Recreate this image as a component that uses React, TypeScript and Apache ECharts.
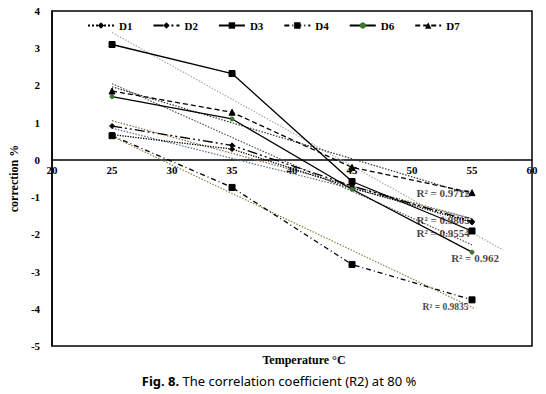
import React, { useEffect, useRef } from "react";
import * as echarts from "echarts";

const temps = [25, 35, 45, 55];
const seriesNames = ["D1", "D2", "D3", "D4", "D6", "D7"];
const D1 = [0.68, 0.29, -0.75, -1.68];
const D2 = [0.91, 0.39, -0.7, -1.65];
const D3 = [3.1, 2.32, -0.58, -1.91];
const D4 = [0.65, -0.74, -2.81, -3.76];
const D6 = [1.7, 1.1, -0.79, -2.48];
const D7 = [1.85, 1.28, -0.2, -0.88];
const trendEnd = [55, 55, 57.6, 55.2, 55, 55];
const xTicks = { min: 20, max: 60, interval: 5 };
const yTicks = { min: -5, max: 4, interval: 1 };

const r2Texts = ["R² = 0.9712", "R² = 0.9805", "R² = 0.9554", "R² = 0.962", "R² = 0.9835"];
const r2X = [52.6, 52.6, 52.6, 55.25, 52.8];
const r2Y = [-0.88, -1.62, -1.97, -2.63, -3.95];
const r2Size = [11, 11, 11, 11, 9.5];

const allData = [D1, D2, D3, D4, D6, D7];
const lineTypes: any[] = ["dotted", [10, 3, 2, 3, 2, 3], "solid", [5, 3, 1, 3], "solid", [5, 3]];
const symbols = ["diamond", "diamond", "rect", "rect", "circle", "triangle"];
const symbolSizes = [5, 5, 6, 6, 4, 6];
const symbolColors = ["#000", "#000", "#000", "#000", "#3b7a2b", "#000"];
const trendColors = ["#5a6a80", "#8a6a40", "#aaaaaa", "#8a8040", "#555", "#333"];

function fit(ys: number[]) {
  const n = ys.length;
  const mx = temps.reduce((a, b) => a + b, 0) / n;
  const my = ys.reduce((a, b) => a + b, 0) / n;
  let sxy = 0, sxx = 0;
  for (let i = 0; i < n; i++) {
    sxy += (temps[i] - mx) * (ys[i] - my);
    sxx += (temps[i] - mx) ** 2;
  }
  const b = sxy / sxx;
  const a = my - b * mx;
  return (x: number) => a + b * x;
}

const serif = "'Liberation Serif', 'DejaVu Serif', serif";
const gridTop = 11;
const gridBottom = 48;
const chartH = 394;

export default function App() {
  const ref = useRef<HTMLDivElement>(null);
  useEffect(() => {
    const chart = echarts.init(ref.current!, null, { renderer: "svg" });
    const series: any[] = [];
    allData.forEach((d, i) => {
      const f = fit(d);
      series.push({
        name: seriesNames[i] + "_trend",
        type: "line",
        data: [
          [temps[0], f(temps[0])],
          [trendEnd[i], f(trendEnd[i])],
        ],
        symbol: "none",
        lineStyle: { color: trendColors[i], width: 1.2, type: [1.5, 1.5] },
        silent: true,
        z: 1,
      });
    });
    allData.forEach((d, i) => {
      series.push({
        name: seriesNames[i],
        type: "line",
        data: temps.map((t, j) => [t, d[j]]),
        symbol: symbols[i],
        symbolSize: symbolSizes[i],
        itemStyle: { color: symbolColors[i], borderColor: symbolColors[i] },
        lineStyle: { color: "#000", width: 1.3, type: lineTypes[i] },
        z: 3,
      });
    });
    series.push({
      name: "r2",
      type: "scatter",
      symbolSize: 0,
      data: r2X.map((x, i) => ({
        value: [x, r2Y[i]],
        label: {
          show: true,
          formatter: r2Texts[i],
          fontSize: r2Size[i],
          fontFamily: serif,
          fontWeight: "bold",
          color: "#111",
          position: "inside",
        },
      })),
      z: 5,
      silent: true,
    });

    // pixel distance between bottom of grid and the y = 0 line
    const plotH = chartH - gridTop - gridBottom;
    const zeroOffset = (plotH * (0 - yTicks.min)) / (yTicks.max - yTicks.min);

    chart.setOption({
      animation: false,
      grid: {
        left: 36,
        right: 14,
        top: gridTop,
        bottom: gridBottom,
        show: true,
        borderColor: "#000",
        borderWidth: 1.5,
      },
      legend: {
        data: seriesNames,
        top: 15,
        left: 82,
        itemWidth: 26,
        itemHeight: 8,
        itemGap: 20,
        textStyle: { fontFamily: serif, fontWeight: "bold", fontSize: 11, color: "#000" },
      },
      xAxis: {
        type: "value",
        min: xTicks.min,
        max: xTicks.max,
        interval: xTicks.interval,
        offset: -zeroOffset,
        axisLine: { onZero: false, lineStyle: { color: "#000", width: 1.5 } },
        axisTick: { show: false },
        splitLine: { show: false },
        axisLabel: {
          fontFamily: serif,
          fontWeight: "bold",
          fontSize: 11,
          color: "#000",
          margin: 5,
          showMinLabel: true,
          showMaxLabel: true,
        },
      },
      yAxis: {
        type: "value",
        min: yTicks.min,
        max: yTicks.max,
        interval: yTicks.interval,
        name: "correction %",
        nameLocation: "middle",
        nameGap: 19,
        nameTextStyle: { fontFamily: serif, fontWeight: "bold", fontSize: 12, color: "#000" },
        axisLine: { show: true, lineStyle: { color: "#000", width: 1.5 } },
        axisTick: { show: false },
        splitLine: { show: false },
        axisLabel: {
          fontFamily: serif,
          fontWeight: "bold",
          fontSize: 11,
          color: "#000",
          margin: 12,
        },
      },
      graphic: [
        {
          type: "text",
          x: 304,
          y: 360,
          style: {
            text: "Temperature °C",
            fontFamily: serif,
            fontWeight: "bold",
            fontSize: 12,
            fill: "#000",
            align: "center",
            verticalAlign: "middle",
          },
        },
        {
          type: "text",
          x: 279,
          y: 381,
          style: {
            text: "{b|Fig. 8.} The correlation coefficient (R2) at 80 %",
            fontFamily: "'Noto Sans', sans-serif",
            fontSize: 13,
            fill: "#000",
            align: "center",
            verticalAlign: "middle",
            rich: {
              b: { fontFamily: "'Noto Sans', sans-serif", fontSize: 13, fontWeight: "bold", fill: "#000" },
            },
          },
        },
      ],
      series,
    });
    return () => chart.dispose();
  }, []);
  return <div ref={ref} style={{ width: 546, height: 394, position: "absolute", left: 0, top: 0, background: "#fff" }} />;
}
